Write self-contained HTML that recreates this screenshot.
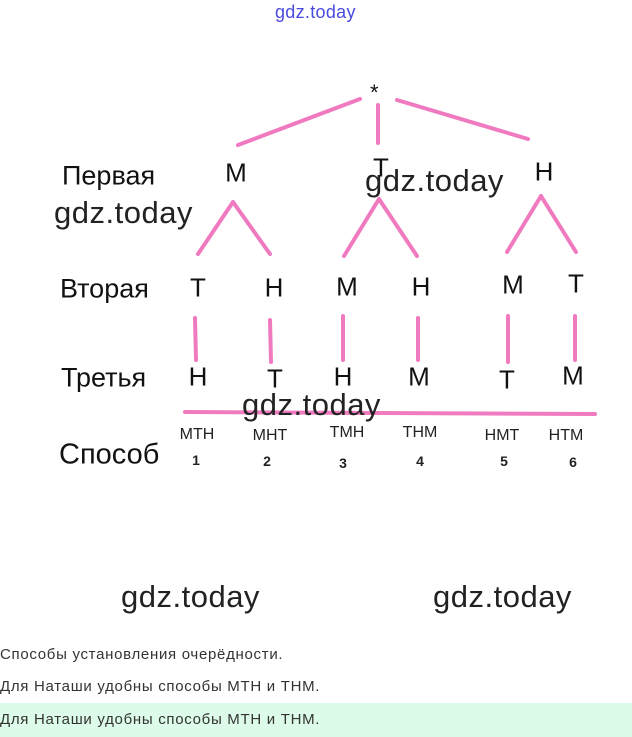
<!DOCTYPE html>
<html><head><meta charset="utf-8"><style>
html,body{margin:0;padding:0;background:#fff;width:632px;height:737px;overflow:hidden;position:relative;font-family:"Liberation Sans",sans-serif;}
.t{position:absolute;white-space:nowrap;color:#111;}
.lbl{font-size:27px;transform:translateY(-50%);}
.L{font-size:26px;transform:translate(-50%,-50%);}
.c{font-size:16px;transform:translate(-50%,-50%);color:#222;}
.n{font-size:14px;font-weight:bold;transform:translate(-50%,-50%);color:#222;}
.w{font-size:31px;color:#222;transform:translateY(-50%);letter-spacing:0.5px;font-weight:300;}
.b{font-size:15px;color:#333;left:0;letter-spacing:0.7px;}
</style></head><body>
<div class="t" style="left:275px;top:2px;font-size:18px;color:#4a4ae0;letter-spacing:0.3px">gdz.today</div>
<svg width="632" height="737" style="position:absolute;left:0;top:0" stroke="#f07ac0" stroke-width="4" stroke-linecap="round" fill="none">
<line x1="238" y1="145" x2="360" y2="99"/>
<line x1="378" y1="105" x2="378" y2="143"/>
<line x1="397" y1="100" x2="528" y2="139"/>
<line x1="233" y1="202" x2="198" y2="254"/><line x1="233" y1="202" x2="270" y2="254"/>
<line x1="379" y1="199" x2="344" y2="256"/><line x1="379" y1="199" x2="417" y2="256"/>
<line x1="541" y1="196" x2="507" y2="252"/><line x1="541" y1="196" x2="576" y2="252"/>
<line x1="195" y1="318" x2="196" y2="360"/>
<line x1="270" y1="320" x2="271" y2="362"/>
<line x1="343" y1="316" x2="343" y2="360"/>
<line x1="418" y1="318" x2="418" y2="360"/>
<line x1="508" y1="316" x2="508" y2="362"/>
<line x1="575" y1="316" x2="575" y2="360"/>
<line x1="185" y1="412" x2="595" y2="414"/>
</svg>
<div class="t" style="left:370px;top:80px;font-size:22px;">*</div>
<div class="t lbl" style="left:62px;top:176px">Первая</div>
<div class="t lbl" style="left:60px;top:289px">Вторая</div>
<div class="t lbl" style="left:61px;top:378px">Третья</div>
<div class="t lbl" style="left:59px;top:455px;font-size:29px">Способ</div>
<div class="t L" style="left:236px;top:173px">М</div>
<div class="t L" style="left:381px;top:168px">Т</div>
<div class="t L" style="left:544px;top:172px">Н</div>
<div class="t L" style="left:198px;top:288px">Т</div>
<div class="t L" style="left:274px;top:288px">Н</div>
<div class="t L" style="left:347px;top:287px">М</div>
<div class="t L" style="left:421px;top:287px">Н</div>
<div class="t L" style="left:513px;top:285px">М</div>
<div class="t L" style="left:576px;top:284px">Т</div>
<div class="t L" style="left:198px;top:377px">Н</div>
<div class="t L" style="left:275px;top:379px">Т</div>
<div class="t L" style="left:343px;top:377px">Н</div>
<div class="t L" style="left:419px;top:377px">М</div>
<div class="t L" style="left:507px;top:380px">Т</div>
<div class="t L" style="left:573px;top:376px">М</div>
<div class="t c" style="left:197px;top:435px">МТН</div>
<div class="t c" style="left:270px;top:436px">МНТ</div>
<div class="t c" style="left:347px;top:433px">ТМН</div>
<div class="t c" style="left:420px;top:433px">ТНМ</div>
<div class="t c" style="left:502px;top:436px">НМТ</div>
<div class="t c" style="left:566px;top:436px">НТМ</div>
<div class="t n" style="left:196px;top:460px">1</div>
<div class="t n" style="left:267px;top:461px">2</div>
<div class="t n" style="left:343px;top:463px">3</div>
<div class="t n" style="left:420px;top:461px">4</div>
<div class="t n" style="left:504px;top:461px">5</div>
<div class="t n" style="left:573px;top:462px">6</div>
<div class="t w" style="left:54px;top:213px">gdz.today</div>
<div class="t w" style="left:365px;top:181px">gdz.today</div>
<div class="t w" style="left:242px;top:405px">gdz.today</div>
<div class="t w" style="left:121px;top:597px">gdz.today</div>
<div class="t w" style="left:433px;top:597px">gdz.today</div>
<div class="t b" style="top:646px">Способы установления очерёдности.</div>
<div class="t b" style="top:678px">Для Наташи удобны способы МТН и ТНМ.</div>
<div style="position:absolute;left:0;top:703px;width:632px;height:34px;background:#dcfbe8"></div>
<div class="t b" style="top:711px">Для Наташи удобны способы МТН и ТНМ.</div>
</body></html>
